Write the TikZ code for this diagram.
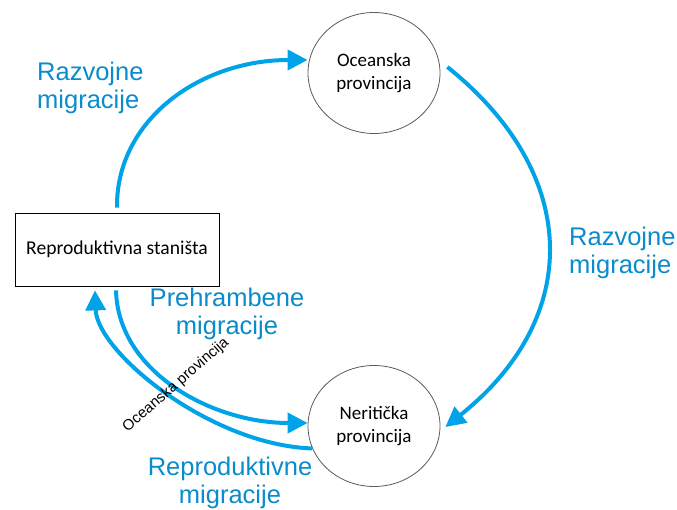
\documentclass[tikz,border=0pt]{standalone}
\usepackage{fontspec}
\setmainfont{Liberation Sans}
\newfontfamily\calfont{Carlito}
\usetikzlibrary{shapes.geometric,arrows.meta}
\definecolor{arrowcol}{RGB}{0,162,232}
\definecolor{labcol}{RGB}{10,139,203}
\definecolor{edgecol}{RGB}{90,90,90}
\tikzset{
  prov/.style={ellipse,draw=edgecol,line width=0.8pt,minimum width=132pt,minimum height=121pt,inner sep=0pt,align=center,font=\calfont\fontsize{19}{23.5}\selectfont},
  habitat/.style={rectangle,draw=black,line width=0.8pt,minimum width=204pt,minimum height=73pt,inner sep=0pt,font=\calfont\fontsize{19.6}{22}\selectfont},
  mig/.style={draw=arrowcol,line width=4pt,-{Triangle[length=20pt,width=20pt]}},
  miglab/.style={text=labcol,inner sep=0pt,font=\fontsize{25.5}{28}\selectfont},
  smalllab/.style={text=black,inner sep=0pt,font=\fontsize{15}{17}\selectfont}
}
\begin{document}
\begin{tikzpicture}[x=1pt,y=-1pt]
\useasboundingbox (0,0) rectangle (677,510);
\node[prov] (oce) at (374,73) {Oceanska\\provincija};
\node[prov] (ner) at (374,426) {Neritička\\provincija};
\node[habitat] (rep) at (117,249.5) {Reproduktivna staništa};

% Razvojne migracije (left, up)
\draw[mig] ([yshift=5pt]rep.north) .. controls (116,120) and (200,60) .. ([yshift=13pt]oce.west);
% Razvojne migracije (right, down)
\draw[mig] ([xshift=7pt,yshift=6pt]oce.east) .. controls (582,175) and (582,318) .. ([xshift=5pt,yshift=-1pt]ner.east);
% Prehrambene migracije
\draw[mig] ([xshift=-1pt,yshift=-4pt]rep.south) .. controls (118,372) and (212,423) .. ([yshift=3pt]ner.west);
% Reproduktivne migracije
\draw[mig] (ner.200) .. controls (210,445) and (97,352) .. ([xshift=-22pt,yshift=-4pt]rep.south);

\node[miglab,anchor=north west,align=left] (l1) at (37,62) {Razvojne\\migracije};
\node[miglab,anchor=north west,align=left] (l2) at (569,227) {Razvojne\\migracije};
\node[miglab,anchor=north,align=center] (l3) at (227,288) {Prehrambene\\migracije};
\node[miglab,anchor=north,align=center] (l4) at (230,457) {Reproduktivne\\migracije};
\node[smalllab,rotate=41] (l5) at (176,385) {Oceanska provincija};
\end{tikzpicture}
\end{document}
